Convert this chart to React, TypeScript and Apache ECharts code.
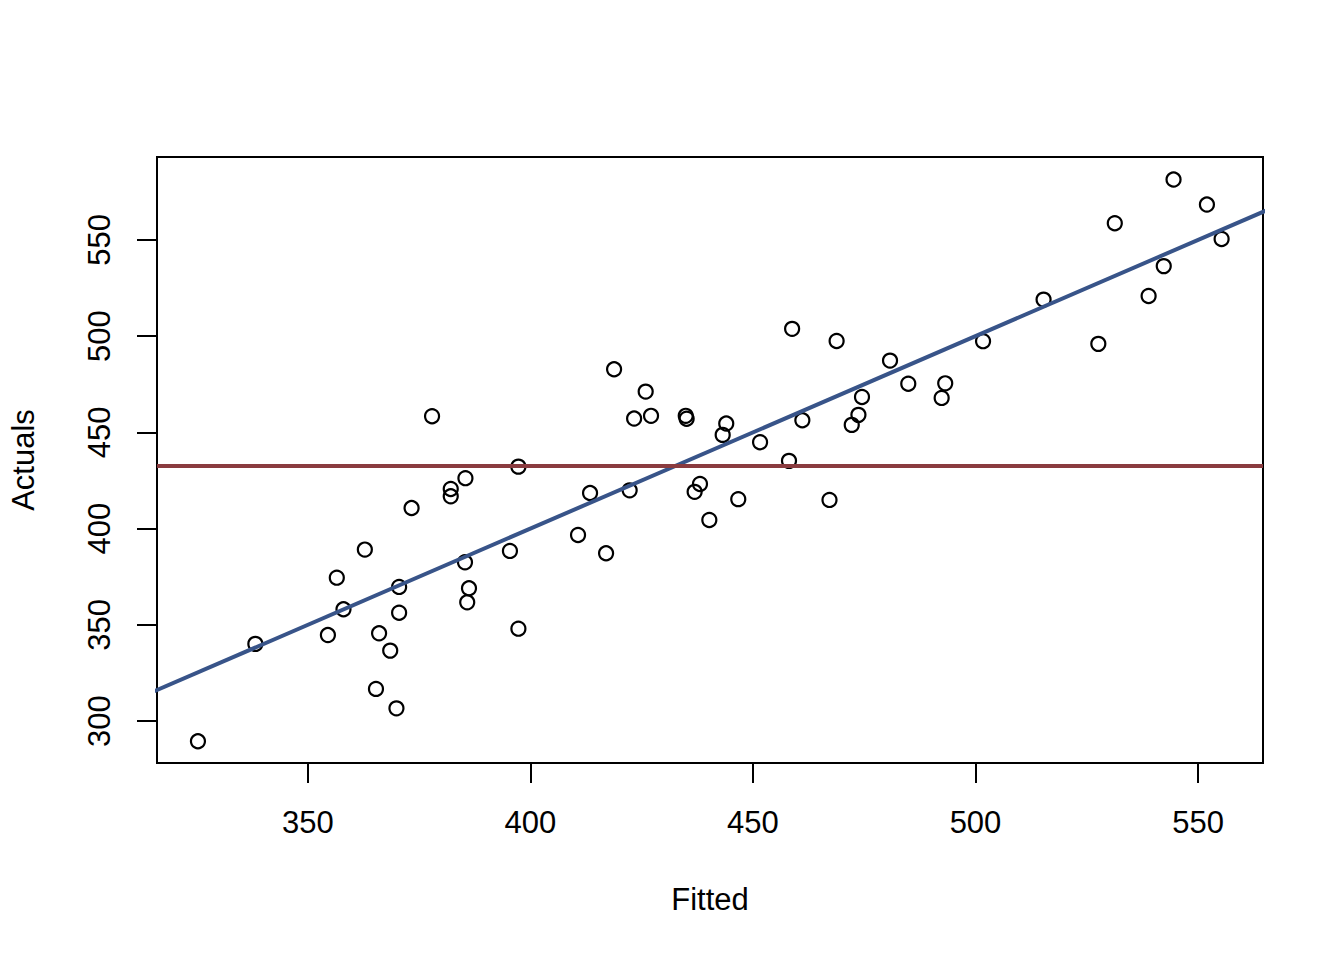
import React, { useEffect, useRef } from "react";
import * as echarts from "echarts";

const fitted = [
  325.3, 338.2, 354.5, 356.5, 358.0, 362.8, 370.5, 370.5, 366.0, 368.5, 365.3, 369.9,
  377.9, 418.8, 425.9, 423.3, 427.1, 397.3, 385.4, 382.1, 382.1, 373.3, 413.4, 422.3,
  410.7, 417.0, 395.4, 385.3, 386.2, 385.8, 397.3,
  458.8, 468.8, 480.8, 484.9, 474.5, 473.7, 472.2, 461.1, 434.9, 435.1, 444.0, 443.2,
  451.6, 458.1, 438.1, 436.9, 446.7, 467.2, 440.2,
  544.5, 552.0, 531.3, 555.3, 542.3, 538.9, 515.3, 501.7, 527.6, 493.2, 492.4,
];
const actuals = [
  289.5, 340.1, 344.7, 374.5, 358.1, 389.1, 369.7, 356.3, 345.6, 336.6, 316.7, 306.6,
  458.4, 482.8, 471.2, 457.2, 458.6, 432.2, 426.2, 420.6, 416.8, 410.7, 418.5, 419.9,
  396.7, 387.2, 388.4, 382.5, 369.0, 361.7, 348.0,
  503.8, 497.5, 487.3, 475.3, 468.4, 459.1, 453.9, 456.3, 458.6, 457.1, 454.6, 448.7,
  444.9, 435.2, 423.2, 419.1, 415.3, 414.9, 404.5,
  581.4, 568.4, 558.7, 550.5, 536.4, 520.9, 519.0, 497.4, 496.0, 475.5, 467.9,
];

const xTicks = [350, 400, 450, 500, 550];
const yTicks = [300, 350, 400, 450, 500, 550];
const xRange = [316.1, 564.6];
const yRange = [278.2, 593.1];

// reference lines: y = x fit and mean of actuals
const fitLine = [
  [300, 300],
  [600, 600],
];
const meanActual = 432.5;

const FONT = "'Liberation Sans', Arial, Helvetica, sans-serif";

export default function App() {
  const chartRef = useRef<HTMLDivElement>(null);

  useEffect(() => {
    if (!chartRef.current) return;
    const chart = echarts.init(chartRef.current, undefined, { renderer: "svg" });

    const points = fitted.map((x, i) => [x, actuals[i]]);

    const axisCommon = {
      type: "value" as const,
      splitLine: { show: false },
      axisLine: { show: false },
      nameLocation: "middle" as const,
      nameTextStyle: { color: "#000", fontSize: 31, fontFamily: FONT },
    };

    const option: echarts.EChartsOption = {
      animation: false,
      backgroundColor: "#fff",
      grid: {
        show: true,
        left: 157,
        top: 157,
        right: 81,
        bottom: 197,
        borderColor: "#000",
        borderWidth: 2,
        backgroundColor: "transparent",
      },
      xAxis: {
        ...axisCommon,
        min: xRange[0],
        max: xRange[1],
        name: "Fitted",
        nameGap: 121,
        axisTick: {
          show: true,
          length: 20,
          customValues: xTicks,
          lineStyle: { color: "#000", width: 2 },
        },
        axisLabel: {
          customValues: xTicks,
          margin: 44,
          color: "#000",
          fontSize: 31,
          fontFamily: FONT,
        },
      },
      yAxis: {
        ...axisCommon,
        min: yRange[0],
        max: yRange[1],
        name: "Actuals",
        nameGap: 118,
        axisTick: {
          show: true,
          length: 20,
          customValues: yTicks,
          lineStyle: { color: "#000", width: 2 },
        },
        axisLabel: {
          customValues: yTicks,
          rotate: 90,
          margin: 42,
          color: "#000",
          fontSize: 31,
          fontFamily: FONT,
        },
      },
      series: [
        {
          name: "points",
          type: "scatter",
          symbol: "circle",
          symbolSize: 14,
          itemStyle: {
            color: "rgba(0,0,0,0)",
            borderColor: "#000",
            borderWidth: 2.2,
            opacity: 1,
          },
          data: points,
          silent: true,
        },
        {
          name: "fit",
          type: "line",
          data: fitLine,
          symbol: "none",
          clip: true,
          lineStyle: { color: "#385489", width: 4 },
          silent: true,
        },
        {
          name: "mean",
          type: "line",
          data: [
            [xRange[0], meanActual],
            [xRange[1], meanActual],
          ],
          symbol: "none",
          lineStyle: { color: "#8a3b3f", width: 4 },
          silent: true,
        },
      ],
    };

    chart.setOption(option);

    return () => {
      chart.dispose();
    };
  }, []);

  return (
    <div
      ref={chartRef}
      style={{ position: "absolute", left: 0, top: 0, width: 1344, height: 960, background: "#fff" }}
    />
  );
}
